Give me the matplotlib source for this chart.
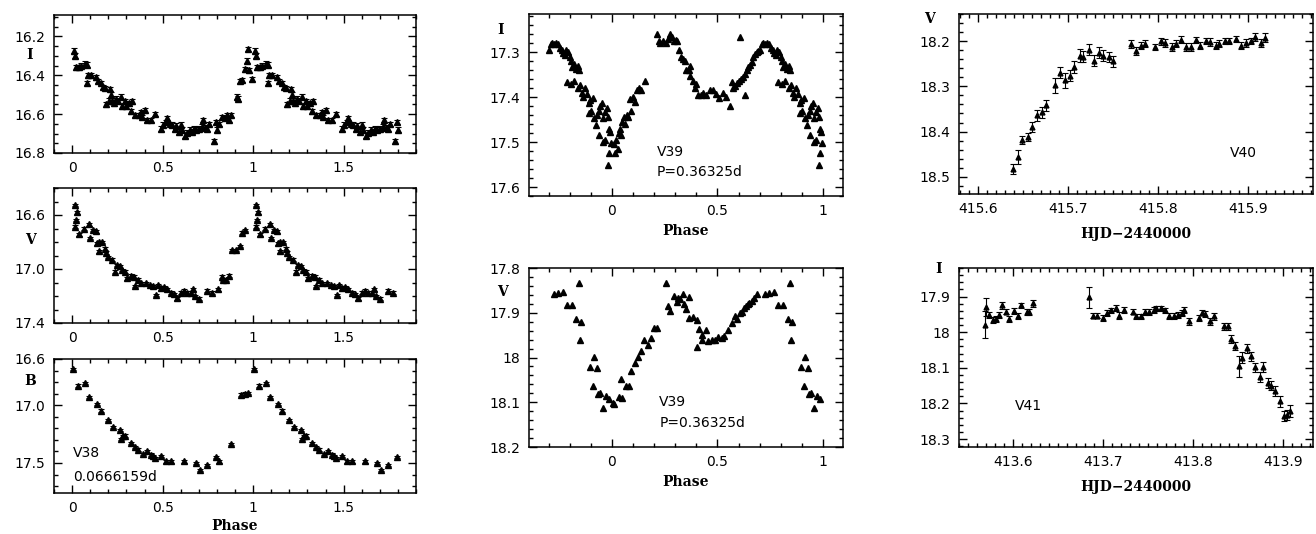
import numpy as np
import matplotlib
matplotlib.use("Agg")
import matplotlib.pyplot as plt
from matplotlib.ticker import MultipleLocator, FixedLocator, FormatStrFormatter

plt.rcParams['font.family'] = 'DejaVu Sans'

# ---------------- DATA ----------------
# V38, phased (0..1); shown again at phase + 1 up to 1.8
i38_phase = [0.010, 0.018, 0.022, 0.037, 0.050, 0.070, 0.083, 0.083, 0.088, 0.107,
             0.130, 0.144, 0.157, 0.170, 0.180, 0.190, 0.203, 0.210, 0.216, 0.220,
             0.230, 0.244, 0.255, 0.270, 0.277, 0.290, 0.300, 0.313, 0.323, 0.330,
             0.350, 0.370, 0.380, 0.387, 0.400, 0.415, 0.434, 0.460, 0.490, 0.500,
             0.517, 0.526, 0.540, 0.553, 0.568, 0.576, 0.590, 0.600, 0.605, 0.624,
             0.637, 0.650, 0.660, 0.673, 0.683, 0.700, 0.716, 0.723, 0.734, 0.747,
             0.756, 0.785, 0.793, 0.800, 0.810, 0.830, 0.845, 0.856, 0.866, 0.876,
             0.910, 0.918, 0.930, 0.940, 0.957, 0.965, 0.974, 0.978, 0.996]
i38_mag = [16.273, 16.300, 16.360, 16.360, 16.350, 16.340, 16.345, 16.440, 16.400, 16.400,
           16.410, 16.430, 16.440, 16.460, 16.465, 16.550, 16.530, 16.470, 16.500, 16.530,
           16.545, 16.520, 16.530, 16.510, 16.560, 16.535, 16.560, 16.545, 16.585, 16.535,
           16.605, 16.605, 16.590, 16.615, 16.580, 16.630, 16.630, 16.600, 16.675, 16.655,
           16.640, 16.620, 16.650, 16.655, 16.675, 16.660, 16.690, 16.655, 16.680, 16.710,
           16.695, 16.680, 16.690, 16.675, 16.680, 16.675, 16.665, 16.630, 16.670, 16.675,
           16.650, 16.740, 16.640, 16.680, 16.650, 16.615, 16.620, 16.605, 16.630, 16.605,
           16.510, 16.520, 16.430, 16.425, 16.370, 16.325, 16.265, 16.375, 16.420]

v38_phase = [0.015, 0.022, 0.018, 0.026, 0.037, 0.065, 0.092, 0.100, 0.116, 0.130,
             0.138, 0.148, 0.148, 0.166, 0.180, 0.188, 0.200, 0.220, 0.236, 0.250,
             0.262, 0.273, 0.290, 0.304, 0.323, 0.340, 0.350, 0.365, 0.378, 0.406,
             0.428, 0.446, 0.465, 0.476, 0.490, 0.507, 0.526, 0.544, 0.563, 0.580,
             0.600, 0.618, 0.637, 0.655, 0.668, 0.680, 0.700, 0.747, 0.775, 0.808,
             0.826, 0.834, 0.849, 0.867, 0.886, 0.908, 0.926, 0.937, 0.956]
v38_mag = [16.526, 16.637, 16.686, 16.580, 16.743, 16.700, 16.670, 16.770, 16.710, 16.720,
           16.810, 16.800, 16.870, 16.800, 16.850, 16.880, 16.910, 16.930, 17.020, 16.970,
           16.980, 17.007, 17.020, 17.070, 17.050, 17.057, 17.126, 17.080, 17.106, 17.106,
           17.118, 17.126, 17.193, 17.118, 17.143, 17.136, 17.150, 17.175, 17.185, 17.217,
           17.175, 17.160, 17.175, 17.175, 17.150, 17.200, 17.220, 17.160, 17.175, 17.150,
           17.057, 17.080, 17.080, 17.050, 16.860, 16.860, 16.830, 16.730, 16.710]

b38_phase = [0.004, 0.033, 0.070, 0.096, 0.135, 0.162, 0.200, 0.225, 0.262, 0.270,
             0.280, 0.290, 0.328, 0.350, 0.365, 0.390, 0.415, 0.434, 0.446, 0.460,
             0.490, 0.517, 0.544, 0.618, 0.683, 0.705, 0.747, 0.797, 0.812, 0.880,
             0.935, 0.956, 0.974]
b38_mag = [16.685, 16.830, 16.806, 16.930, 16.988, 17.046, 17.130, 17.190, 17.217, 17.290,
           17.270, 17.263, 17.330, 17.360, 17.384, 17.420, 17.400, 17.428, 17.442, 17.457,
           17.442, 17.486, 17.486, 17.486, 17.500, 17.558, 17.520, 17.450, 17.486, 17.335,
           16.908, 16.900, 16.893]

# V39, phased (0..1); phases >= 0.7 shown again at phase - 1
i39_phase = [0.008, 0.015, 0.020, 0.027, 0.033, 0.038, 0.044, 0.050, 0.058, 0.064,
             0.070, 0.076, 0.085, 0.092, 0.100, 0.108, 0.118, 0.128, 0.137, 0.155,
             0.214, 0.223, 0.230, 0.242, 0.255, 0.266, 0.274, 0.287, 0.293, 0.303,
             0.310, 0.318, 0.326, 0.337, 0.345, 0.353, 0.366, 0.372, 0.369, 0.382,
             0.393, 0.400, 0.409, 0.420, 0.433, 0.448, 0.464, 0.480, 0.493, 0.509,
             0.528, 0.540, 0.560, 0.567, 0.575, 0.583, 0.594, 0.600, 0.607, 0.612,
             0.623, 0.631, 0.632, 0.639, 0.647, 0.655, 0.662, 0.670, 0.678, 0.686,
             0.694, 0.702, 0.710, 0.718, 0.726, 0.734, 0.746, 0.753, 0.762, 0.769,
             0.778, 0.784, 0.794, 0.800, 0.805, 0.813, 0.821, 0.829, 0.837, 0.845,
             0.789, 0.805, 0.821, 0.837, 0.848, 0.857, 0.864, 0.873, 0.880, 0.889,
             0.895, 0.889, 0.900, 0.911, 0.916, 0.924, 0.927, 0.937, 0.943, 0.952,
             0.959, 0.967, 0.975, 0.979, 0.984, 0.990, 0.940, 0.956, 0.968, 0.987,
             0.995, 0.979]
i39_mag = [17.505, 17.525, 17.495, 17.515, 17.480, 17.470, 17.485, 17.455, 17.445, 17.460,
           17.440, 17.445, 17.405, 17.430, 17.400, 17.410, 17.385, 17.380, 17.385, 17.365,
           17.260, 17.274, 17.280, 17.274, 17.280, 17.270, 17.260, 17.267, 17.276, 17.273,
           17.276, 17.296, 17.310, 17.315, 17.320, 17.340, 17.340, 17.330, 17.354, 17.363,
           17.380, 17.370, 17.396, 17.396, 17.390, 17.396, 17.385, 17.385, 17.392, 17.403,
           17.390, 17.400, 17.420, 17.366, 17.380, 17.376, 17.368, 17.363, 17.267, 17.360,
           17.355, 17.396, 17.348, 17.340, 17.333, 17.328, 17.322, 17.310, 17.304, 17.300,
           17.297, 17.295, 17.282, 17.280, 17.282, 17.280, 17.282, 17.290, 17.296, 17.302,
           17.307, 17.296, 17.300, 17.310, 17.320, 17.333, 17.326, 17.337, 17.330, 17.340,
           17.366, 17.370, 17.363, 17.380, 17.374, 17.390, 17.400, 17.380, 17.392, 17.414,
           17.407, 17.436, 17.430, 17.403, 17.447, 17.462, 17.440, 17.430, 17.420, 17.414,
           17.447, 17.433, 17.425, 17.444, 17.470, 17.477, 17.484, 17.500, 17.495, 17.525,
           17.503, 17.550]

v39_phase = [0.005, 0.010, 0.033, 0.049, 0.044, 0.065, 0.081, 0.092, 0.108, 0.124,
             0.136, 0.150, 0.171, 0.184, 0.198, 0.214, 0.255, 0.266, 0.277, 0.293,
             0.306, 0.314, 0.322, 0.338, 0.341, 0.353, 0.365, 0.366, 0.382, 0.401,
             0.414, 0.401, 0.428, 0.428, 0.445, 0.456, 0.472, 0.488, 0.504, 0.520,
             0.531, 0.551, 0.567, 0.583, 0.594, 0.607, 0.618, 0.626, 0.636, 0.643,
             0.651, 0.662, 0.675, 0.686, 0.726, 0.746, 0.769, 0.789, 0.813, 0.832,
             0.845, 0.853, 0.848, 0.895, 0.913, 0.927, 0.911, 0.932, 0.945, 0.956,
             0.971, 0.987]
v39_mag = [18.101, 18.105, 18.088, 18.090, 18.048, 18.064, 18.063, 18.031, 18.012, 17.999,
           17.986, 17.961, 17.971, 17.956, 17.934, 17.934, 17.833, 17.885, 17.896, 17.863,
           17.876, 17.866, 17.870, 17.857, 17.881, 17.891, 17.865, 17.911, 17.909, 17.916,
           17.936, 17.976, 17.949, 17.960, 17.939, 17.963, 17.961, 17.961, 17.954, 17.957,
           17.951, 17.939, 17.924, 17.907, 17.913, 17.901, 17.898, 17.889, 17.885, 17.881,
           17.878, 17.874, 17.866, 17.857, 17.857, 17.855, 17.854, 17.883, 17.883, 17.915,
           17.834, 17.920, 17.960, 18.021, 17.999, 18.023, 18.064, 18.081, 18.079, 18.113,
           18.087, 18.093]

# V40, V time series
v40_hjd = [415.639, 415.644, 415.649, 415.656, 415.660, 415.666, 415.671, 415.676, 415.686, 415.691,
           415.697, 415.702, 415.707, 415.713, 415.717, 415.723, 415.729, 415.734, 415.739, 415.745,
           415.750, 415.770, 415.775, 415.781, 415.786, 415.797, 415.803, 415.808, 415.815, 415.820,
           415.826, 415.831, 415.837, 415.842, 415.847, 415.853, 415.858, 415.864, 415.868, 415.874,
           415.879, 415.886, 415.892, 415.898, 415.903, 415.908, 415.914, 415.919]
v40_mag = [18.482, 18.456, 18.418, 18.412, 18.390, 18.364, 18.357, 18.342, 18.298, 18.270,
           18.287, 18.276, 18.257, 18.232, 18.234, 18.219, 18.243, 18.226, 18.232, 18.235,
           18.245, 18.206, 18.222, 18.210, 18.206, 18.213, 18.200, 18.204, 18.213, 18.206,
           18.197, 18.213, 18.213, 18.197, 18.210, 18.199, 18.202, 18.210, 18.206, 18.200,
           18.200, 18.195, 18.210, 18.204, 18.200, 18.191, 18.204, 18.193]
v40_err = [0.011, 0.015, 0.009, 0.009, 0.011, 0.012, 0.012, 0.012, 0.017, 0.012,
           0.017, 0.013, 0.013, 0.015, 0.013, 0.012, 0.012, 0.012, 0.012, 0.012,
           0.012, 0.009, 0.008, 0.008, 0.008, 0.007, 0.008, 0.008, 0.008, 0.008,
           0.008, 0.008, 0.008, 0.007, 0.008, 0.007, 0.008, 0.008, 0.008, 0.007,
           0.007, 0.007, 0.008, 0.008, 0.007, 0.008, 0.009, 0.010]

# V41, I time series
v41_hjd = [413.5685, 413.5704, 413.573, 413.578, 413.581, 413.584, 413.588, 413.592, 413.596, 413.601,
           413.605, 413.609, 413.615, 413.618, 413.622, 413.6844, 413.689, 413.693, 413.700, 413.704,
           413.709, 413.714, 413.718, 413.723, 413.733, 413.737, 413.742, 413.747, 413.751, 413.756,
           413.759, 413.764, 413.769, 413.773, 413.779, 413.783, 413.788, 413.790, 413.795, 413.806,
           413.810, 413.813, 413.819, 413.823, 413.834, 413.839, 413.842, 413.846, 413.851, 413.854,
           413.860, 413.864, 413.869, 413.874, 413.878, 413.883, 413.886, 413.891, 413.896, 413.901,
           413.904, 413.907]
v41_mag = [17.979, 17.930, 17.951, 17.965, 17.963, 17.951, 17.925, 17.942, 17.964, 17.940,
           17.954, 17.925, 17.944, 17.944, 17.919, 17.902, 17.954, 17.954, 17.961, 17.947,
           17.939, 17.933, 17.954, 17.937, 17.942, 17.956, 17.956, 17.944, 17.944, 17.937,
           17.933, 17.933, 17.939, 17.954, 17.954, 17.951, 17.947, 17.937, 17.970, 17.961,
           17.945, 17.949, 17.970, 17.956, 17.984, 17.984, 18.019, 18.038, 18.096, 18.071,
           18.045, 18.068, 18.099, 18.127, 18.098, 18.143, 18.150, 18.164, 18.194, 18.235,
           18.232, 18.222]
v41_err = [0.038, 0.025, 0.008, 0.008, 0.008, 0.008, 0.009, 0.008, 0.008, 0.009,
           0.009, 0.008, 0.008, 0.008, 0.010, 0.030, 0.007, 0.007, 0.008, 0.008,
           0.008, 0.008, 0.010, 0.009, 0.008, 0.008, 0.008, 0.008, 0.008, 0.008,
           0.007, 0.007, 0.007, 0.008, 0.008, 0.008, 0.008, 0.009, 0.010, 0.009,
           0.008, 0.009, 0.010, 0.010, 0.010, 0.010, 0.011, 0.011, 0.030, 0.015,
           0.012, 0.013, 0.012, 0.014, 0.014, 0.014, 0.013, 0.014, 0.015, 0.015,
           0.015, 0.017]

i38_err = 0.012
v38_err = 0.010
b38_err = 0.010
# --------------------------------------

W, H = 1316, 534
fig = plt.figure(figsize=(W / 100, H / 100), dpi=100)

def add_ax(x0, y0, x1, y1):
    # pixel box -> figure fraction
    return fig.add_axes([x0 / W, 1 - y1 / H, (x1 - x0) / W, (y1 - y0) / H])

def style(ax):
    ax.tick_params(which='both', direction='in', top=True, right=True,
                   labelsize=10, width=1, colors='k', pad=6)
    ax.tick_params(which='major', length=6)
    ax.tick_params(which='minor', length=3)
    for s in ax.spines.values():
        s.set_linewidth(1.1)

lab_font = dict(family='DejaVu Serif', fontweight='bold', fontsize=10)

def fold_plus(p, m, hi=1.8):
    p = np.asarray(p); m = np.asarray(m)
    pp = np.concatenate([p, p + 1]); mm = np.concatenate([m, m])
    keep = pp <= hi
    return pp[keep], mm[keep]

def fold_minus(p, m, lo=-0.3):
    p = np.asarray(p); m = np.asarray(m)
    pp = np.concatenate([p - 1, p]); mm = np.concatenate([m, m])
    keep = pp >= lo
    return pp[keep], mm[keep]

eb = dict(fmt='^', ms=4, color='k', ecolor='k', elinewidth=0.8, capsize=2, capthick=0.8)

# ---- left column: V38 ----
ax1 = add_ax(54, 15, 416, 153)
x, y = fold_plus(i38_phase, i38_mag)
ax1.errorbar(x, y, yerr=i38_err, **eb)
ax1.set_ylim(16.8, 16.09)
ax1.yaxis.set_major_locator(FixedLocator([16.2, 16.4, 16.6, 16.8]))
ax1.yaxis.set_minor_locator(MultipleLocator(0.05))

ax2 = add_ax(54, 188, 416, 323)
x, y = fold_plus(v38_phase, v38_mag)
ax2.errorbar(x, y, yerr=v38_err, **eb)
ax2.set_ylim(17.4, 16.4)
ax2.yaxis.set_major_locator(FixedLocator([16.6, 17.0, 17.4]))
ax2.yaxis.set_minor_locator(MultipleLocator(0.1))

ax3 = add_ax(54, 359, 416, 493)
x, y = fold_plus(b38_phase, b38_mag)
ax3.errorbar(x, y, yerr=b38_err, **eb)
ax3.set_ylim(17.76, 16.6)
ax3.yaxis.set_major_locator(FixedLocator([16.6, 17.0, 17.5]))
ax3.yaxis.set_minor_locator(MultipleLocator(0.1))
ax3.set_xlabel('Phase', labelpad=3, **lab_font)
ax3.text(0.052, 0.30, 'V38', transform=ax3.transAxes, fontsize=10, va='center')
ax3.text(0.052, 0.12, '0.0666159d', transform=ax3.transAxes, fontsize=10, va='center')

for ax in (ax1, ax2, ax3):
    ax.set_xlim(-0.1, 1.9)
    ax.xaxis.set_major_locator(FixedLocator([0, 0.5, 1, 1.5]))
    ax.xaxis.set_minor_locator(MultipleLocator(0.1))
    ax.xaxis.set_major_formatter(FormatStrFormatter('%g'))
    ax.yaxis.set_major_formatter(FormatStrFormatter('%.1f'))
    style(ax)

# ---- middle column: V39 ----
ax4 = add_ax(529, 14, 843, 196)
x, y = fold_minus(i39_phase, i39_mag)
ax4.plot(x, y, '^', ms=5, color='k', mec='k')
ax4.set_ylim(17.62, 17.215)
ax4.yaxis.set_major_locator(FixedLocator([17.3, 17.4, 17.5, 17.6]))
ax4.yaxis.set_minor_locator(MultipleLocator(0.02))
ax4.text(0.408, 0.242, 'V39', transform=ax4.transAxes, fontsize=10, va='center')
ax4.text(0.408, 0.132, 'P=0.36325d', transform=ax4.transAxes, fontsize=10, va='center')

ax5 = add_ax(529, 268, 843, 447)
x, y = fold_minus(v39_phase, v39_mag)
ax5.plot(x, y, '^', ms=5, color='k', mec='k')
ax5.set_ylim(18.2, 17.8)
ax5.yaxis.set_major_locator(FixedLocator([17.8, 17.9, 18.0, 18.1, 18.2]))
ax5.yaxis.set_minor_locator(MultipleLocator(0.02))
ax5.text(0.415, 0.251, 'V39', transform=ax5.transAxes, fontsize=10, va='center')
ax5.text(0.415, 0.134, 'P=0.36325d', transform=ax5.transAxes, fontsize=10, va='center')

for ax in (ax4, ax5):
    ax.set_xlim(-0.393, 1.095)
    ax.xaxis.set_major_locator(FixedLocator([0, 0.5, 1]))
    ax.xaxis.set_minor_locator(MultipleLocator(0.1))
    ax.xaxis.set_major_formatter(FormatStrFormatter('%g'))
    ax.yaxis.set_major_formatter(FormatStrFormatter('%g'))
    ax.set_xlabel('Phase', labelpad=4, **lab_font)
    style(ax)

# ---- right column: V40, V41 ----
eb2 = dict(fmt='^', ms=3.5, color='k', ecolor='k', elinewidth=0.8, capsize=2, capthick=0.8)

ax6 = add_ax(959, 14, 1313, 194)
ax6.errorbar(v40_hjd, v40_mag, yerr=v40_err, **eb2)
ax6.set_xlim(415.579, 415.972)
ax6.set_ylim(18.538, 18.14)
ax6.xaxis.set_major_locator(FixedLocator([415.6, 415.7, 415.8, 415.9]))
ax6.yaxis.set_major_locator(FixedLocator([18.2, 18.3, 18.4, 18.5]))
ax6.text(0.766, 0.228, 'V40', transform=ax6.transAxes, fontsize=10, va='center')

ax7 = add_ax(959, 268, 1313, 447)
ax7.errorbar(v41_hjd, v41_mag, yerr=v41_err, **eb2)
ax7.set_xlim(413.54, 413.933)
ax7.set_ylim(18.322, 17.82)
ax7.xaxis.set_major_locator(FixedLocator([413.6, 413.7, 413.8, 413.9]))
ax7.yaxis.set_major_locator(FixedLocator([17.9, 18.0, 18.1, 18.2, 18.3]))
ax7.text(0.158, 0.229, 'V41', transform=ax7.transAxes, fontsize=10, va='center')

for ax in (ax6, ax7):
    ax.xaxis.set_minor_locator(MultipleLocator(0.01))
    ax.yaxis.set_minor_locator(MultipleLocator(0.02))
    ax.xaxis.set_major_formatter(FormatStrFormatter('%.1f'))
    ax.yaxis.set_major_formatter(FormatStrFormatter('%g'))
    ax.set_xlabel('HJD\u22122440000', labelpad=8, **lab_font)
    style(ax)

# band names, placed in the tick-label column like the original
for px, py, s in [(30, 55, 'I'), (30, 240, 'V'), (30, 381, 'B'),
                  (501, 30, 'I'), (502, 292, 'V'),
                  (929, 19, 'V'), (939, 269, 'I')]:
    fig.text(px / W, 1 - py / H, s, ha='center', va='center', **lab_font)

fig.savefig('out.png', dpi=100)
